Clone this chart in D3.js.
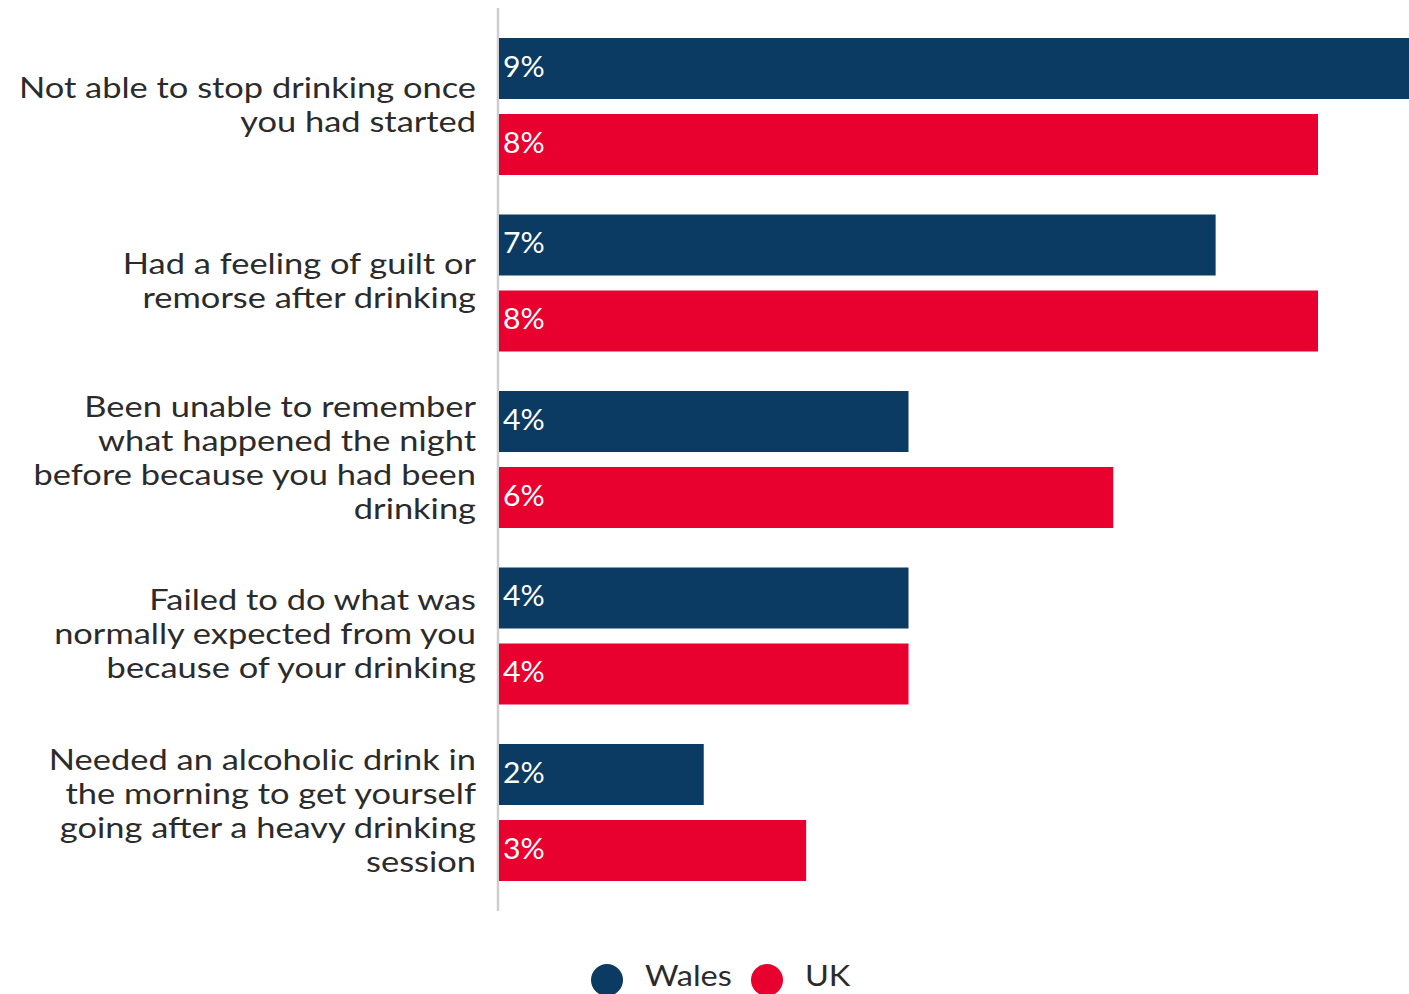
<!DOCTYPE html>
<html>
<head>
<meta charset="utf-8">
<script src="https://cdn.jsdelivr.net/npm/d3@7"></script>
<style>
  html, body { margin: 0; padding: 0; background: #fff; overflow: hidden; }
  svg { display: block; }
  text { font-family: Lato, "Open Sans", sans-serif; }
</style>
</head>
<body>
<svg id="chart" width="1409" height="994"></svg>
<script>
// ---- data ----
const categories = [
  "Not able to stop drinking once you had started",
  "Had a feeling of guilt or remorse after drinking",
  "Been unable to remember what happened the night before because you had been drinking",
  "Failed to do what was normally expected from you because of your drinking",
  "Needed an alcoholic drink in the morning to get yourself going after a heavy drinking session"
];
const categoryLines = [
  ["Not able to stop drinking once", "you had started"],
  ["Had a feeling of guilt or", "remorse after drinking"],
  ["Been unable to remember", "what happened the night", "before because you had been", "drinking"],
  ["Failed to do what was", "normally expected from you", "because of your drinking"],
  ["Needed an alcoholic drink in", "the morning to get yourself", "going after a heavy drinking", "session"]
];
const seriesNames = ["Wales", "UK"];
const walesValues = [9, 7, 4, 4, 2];
const ukValues = [8, 8, 6, 4, 3];
const seriesColors = ["#0b3b63", "#e8002f"];

// ---- layout ----
const svg = d3.select("#chart");
const x0 = 499;
const x = d3.scaleLinear().domain([0, 8]).range([x0, 1318]);

const y = d3.scaleBand().domain(categories).range([38, 38 + 4 * 176.5 + 137])
  .paddingInner(39.5 / 176.5).paddingOuter(0);
const ySub = d3.scaleBand().domain(seriesNames).range([0, y.bandwidth()])
  .paddingInner(2 - y.bandwidth() / 76).paddingOuter(0);

const rows = categories.map((c, i) => ({
  cat: c, lines: categoryLines[i],
  vals: [{s: "Wales", v: walesValues[i]}, {s: "UK", v: ukValues[i]}]
}));

const color = d3.scaleOrdinal().domain(seriesNames).range(seriesColors);

// axis line
svg.append("line")
  .attr("x1", 498).attr("x2", 498)
  .attr("y1", 8).attr("y2", 911)
  .attr("stroke", "#cfcfcf").attr("stroke-width", 2.5);

const g = svg.selectAll("g.grp").data(rows).join("g")
  .attr("class", "grp")
  .attr("transform", d => `translate(0,${y(d.cat)})`);

g.selectAll("rect").data(d => d.vals).join("rect")
  .attr("x", x(0))
  .attr("y", d => ySub(d.s))
  .attr("width", d => x(d.v) - x(0))
  .attr("height", ySub.bandwidth())
  .attr("fill", d => color(d.s));

g.selectAll("text.val").data(d => d.vals).join("text")
  .attr("class", "val")
  .attr("transform", d => `translate(${x(0) + 4},${ySub(d.s) + ySub.bandwidth() / 2 + 8}) scale(1.04,1)`)
  .attr("fill", "#fff")
  .attr("font-size", 29)
  .text(d => d.v + "%");

// category labels
const lineH = 34;
const stretch = 1.23;
g.each(function(d) {
  const n = d.lines.length;
  const cy = y.bandwidth() / 2;
  d3.select(this).selectAll("text.cat").data(d.lines).join("text")
    .attr("class", "cat")
    .attr("text-anchor", "end")
    .attr("fill", "#2b2b2b")
    .attr("font-size", 28)
    .attr("transform", (ln, i) => `translate(476,${cy + (i - (n - 1) / 2) * lineH + 8}) scale(${stretch},1)`)
    .text(ln => ln);
});

// legend
const legendX = [607, 767];
const lg = svg.selectAll("g.leg").data(seriesNames).join("g")
  .attr("class", "leg")
  .attr("transform", (d, i) => `translate(${legendX[i]},980)`);
lg.append("circle").attr("r", 16).attr("fill", d => color(d));
lg.append("text").attr("transform", "translate(38,6) scale(1.12,1)")
  .attr("font-size", 29).attr("fill", "#2b2b2b").text(d => d);
</script>
</body>
</html>
